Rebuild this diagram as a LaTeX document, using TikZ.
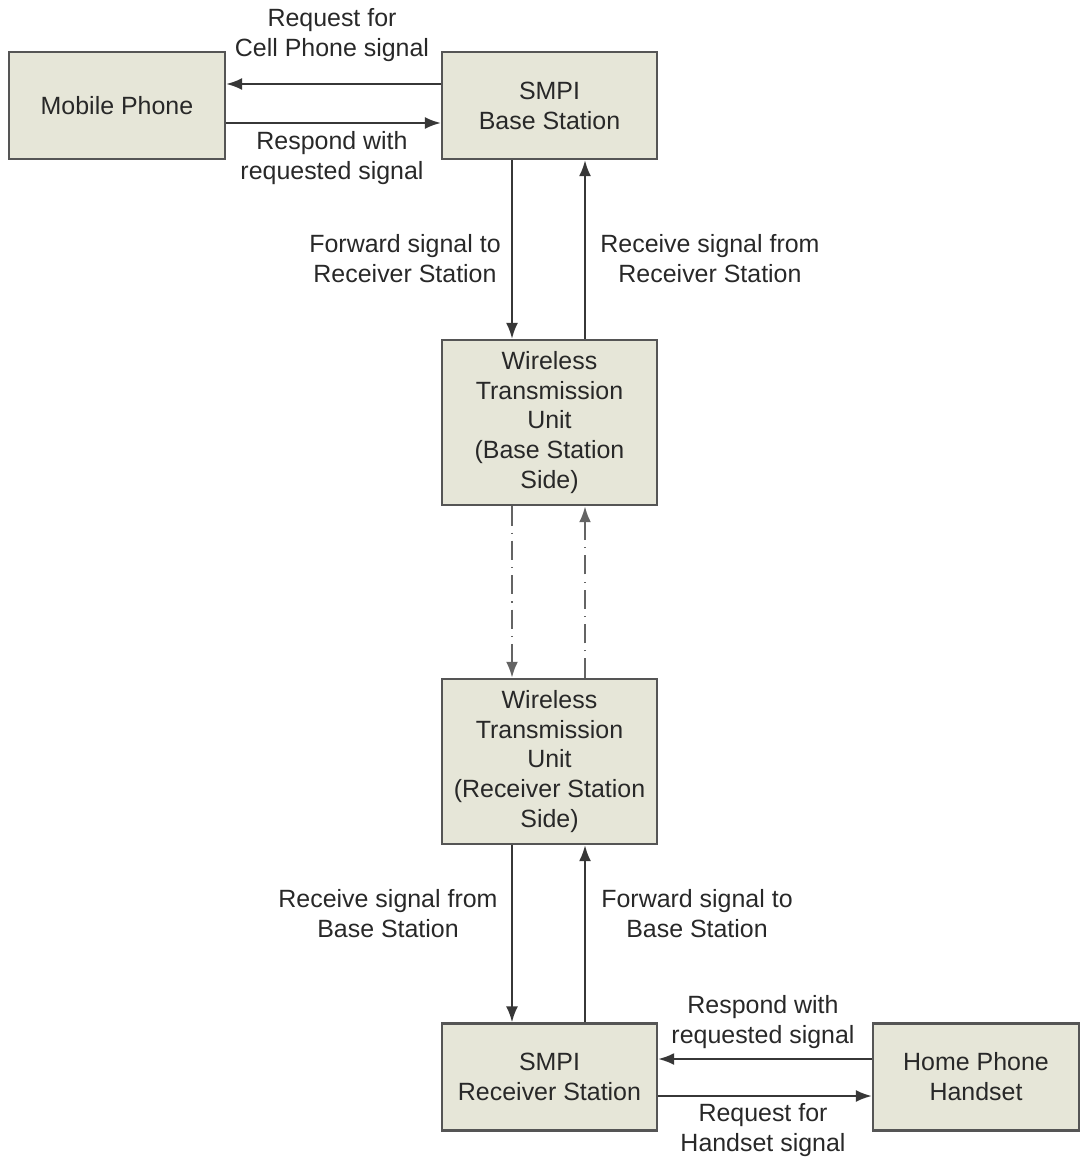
\documentclass[tikz,border=0pt]{standalone}
\usepackage{fontspec}
\setmainfont{Liberation Sans}
\usetikzlibrary{arrows.meta}

\definecolor{boxfill}{RGB}{230,230,216}
\definecolor{boxline}{RGB}{85,85,85}
\definecolor{txtgray}{RGB}{40,40,40}
\definecolor{arrgray}{RGB}{55,55,55}
\definecolor{radiogray}{RGB}{100,100,100}

\begin{document}
\begin{tikzpicture}[x=0.02cm, y=-0.02cm,
  every node/.style={font=\fontsize{14.2}{17}\selectfont, text=txtgray},
  unit/.style={draw=boxline, line width=1.4pt, fill=boxfill, align=center,
    minimum width=4.3cm, minimum height=2.14cm, inner sep=0pt},
  tallunit/.style={unit, minimum height=3.3cm},
  lbl/.style={align=center, inner sep=0pt},
  sig/.style={draw=arrgray, line width=1.1pt, -{Latex[length=0.32cm, width=0.24cm]}},
  radio/.style={sig, draw=radiogray, line width=1.4pt, dash pattern=on 11pt off 4pt on 0.6pt off 4pt}]

\useasboundingbox (0,0) rectangle (1080,1159);

% boxes
\node[unit, minimum width=4.32cm] (mobile) at (117,105.5) {Mobile Phone};
\node[unit] (base) at (549.5,105.5) {SMPI\\Base Station};
\node[tallunit] (wtubase) at (549.5,422.5) {Wireless\\Transmission\\Unit\\(Base Station\\Side)};
\node[tallunit] (wturecv) at (549.5,761.5) {Wireless\\Transmission\\Unit\\(Receiver Station\\Side)};
\node[unit] (recv) at (549.5,1077) {SMPI\\Receiver Station};
\node[unit, minimum width=4.12cm] (handset) at (976,1077) {Home Phone\\Handset};

\coordinate (down) at (512,0);
\coordinate (up) at (585,0);

% top pair
\draw[sig] ([yshift=0.43cm]base.west) -- ([yshift=0.43cm]mobile.east);
\draw[sig] ([yshift=-0.35cm]mobile.east) -- ([yshift=-0.35cm]base.west);
\node[lbl] (reqcell) at (332,35) {Request for\\Cell Phone signal};
\node[lbl] (respcell) at (332,158) {Respond with\\requested signal};

% base station <-> wireless unit
\draw[sig] (base.south -| down) -- (wtubase.north -| down);
\draw[sig] (wtubase.north -| up) -- (base.south -| up);
\node[lbl] (fwdrecv) at (405,259) {Forward signal to\\Receiver Station};
\node[lbl] (rcvrecv) at (710,259) {Receive signal from\\Receiver Station};

% wireless link
\draw[radio] (wtubase.south -| down) -- (wturecv.north -| down);
\draw[radio] (wturecv.north -| up) -- (wtubase.south -| up);

% wireless unit <-> receiver station
\draw[sig] (wturecv.south -| down) -- (recv.north -| down);
\draw[sig] (recv.north -| up) -- (wturecv.south -| up);
\node[lbl] (rcvbase) at (388,914) {Receive signal from\\Base Station};
\node[lbl] (fwdbase) at (697,914) {Forward signal to\\Base Station};

% bottom pair
\draw[sig] ([yshift=0.36cm]handset.west) -- ([yshift=0.36cm]recv.east);
\draw[sig] ([yshift=-0.38cm]recv.east) -- ([yshift=-0.38cm]handset.west);
\node[lbl] (resphand) at (763,1022) {Respond with\\requested signal};
\node[lbl] (reqhand) at (763,1130) {Request for\\Handset signal};

\end{tikzpicture}
\end{document}
